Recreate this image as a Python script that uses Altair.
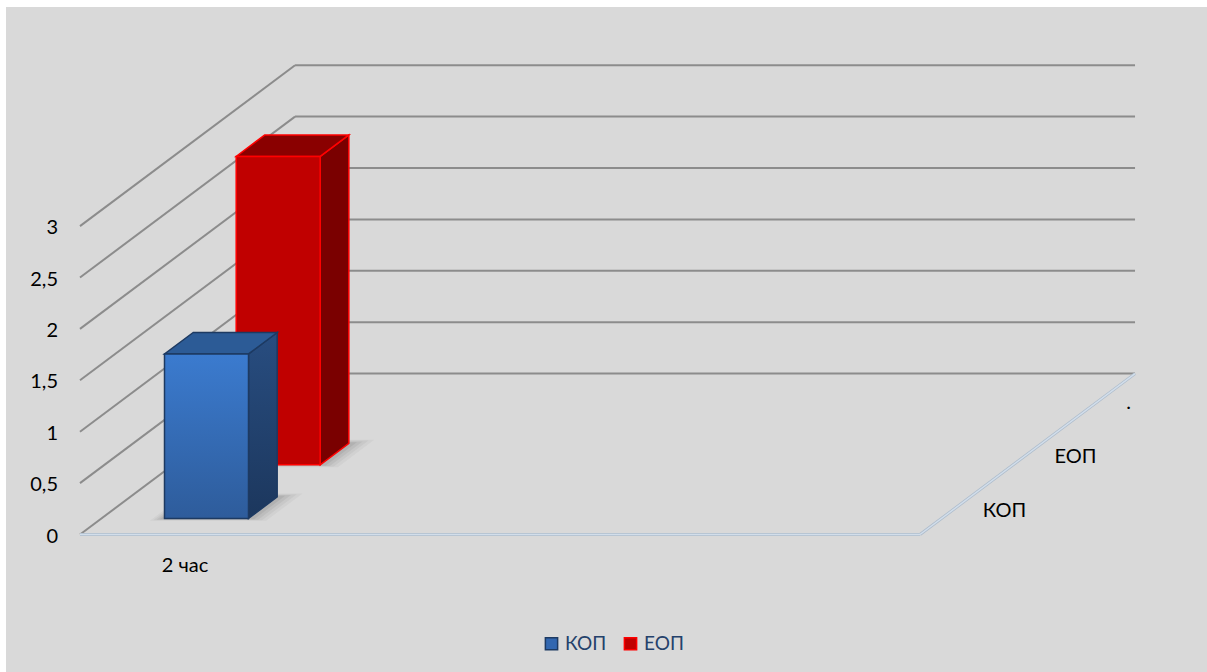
import altair as alt
import pandas as pd

# ---------------- data ----------------
categories = ["2 час"]
n_category_slots = 4
series = ["КОП", "ЕОП"]
values = [1.6, 3.0]
depth_labels = ["КОП", "ЕОП", "."]
y_ticks = [0, 0.5, 1, 1.5, 2, 2.5, 3]
y_tick_labels = ["0", "0,5", "1", "1,5", "2", "2,5", "3"]

front_colors = ["#3b7bcf", "#c00000"]
front_colors_bottom = ["#2e5c9b", "#c00000"]
top_colors = ["#2c5b96", "#8a0000"]
side_colors = ["#284d80", "#7a0000"]
side_colors_bottom = ["#1c375d", "#7a0000"]
outline_colors = ["#1d3a62", "#ff0000"]
legend_fill = ["#3267b0", "#c00000"]

# ---------------- oblique projection ----------------
DEPTH_X = 1.024   # shift (category units) from front edge to back wall
DEPTH_Y = 1.565   # shift (value units) from front edge to back wall
n_rows = len(depth_labels)
kx = DEPTH_X / n_rows
ky = DEPTH_Y / n_rows
BAR_W = 0.4
BAR_D = 0.4

FONT = "Lato"
FS = 20
xscale = alt.Scale(domain=[-0.35238, 5.36667], nice=False, zero=False)
yscale = alt.Scale(domain=[-1.3375, 5.1313], nice=False, zero=False)


def X(f, **kw):
    return alt.X(f, type="quantitative", scale=xscale, axis=None, **kw)


def Y(f, **kw):
    return alt.Y(f, type="quantitative", scale=yscale, axis=None, **kw)


# ---------------- walls / grid ----------------
grid_rows = []
for v in y_ticks:
    grid_rows.append(dict(x=DEPTH_X, x2=n_category_slots + DEPTH_X,
                          y=v + DEPTH_Y, y2=v + DEPTH_Y))
    grid_rows.append(dict(x=0, x2=DEPTH_X, y=v, y2=v + DEPTH_Y))
grid_df = pd.DataFrame(grid_rows)

floor_df = pd.DataFrame([
    dict(x=0, x2=n_category_slots, y=0, y2=0),
    dict(x=n_category_slots, x2=n_category_slots + DEPTH_X, y=0, y2=DEPTH_Y),
])

grid = alt.Chart(grid_df).mark_rule(color="#8c8c8c", strokeWidth=2).encode(
    x=X("x"), x2="x2", y=Y("y"), y2="y2")
floor_shade = alt.Chart(floor_df).mark_rule(color="#aebccb", strokeWidth=3).encode(
    x=X("x"), x2="x2", y=Y("y"), y2="y2")
floor = alt.Chart(floor_df).mark_rule(color="#d2deeb", strokeWidth=1.5).encode(
    x=X("x"), x2="x2", y=Y("y"), y2="y2")

# ---------------- bars ----------------
cat_center = 0.5


def bar_geometry(i):
    v = values[i]
    x0 = cat_center - BAR_W / 2
    x1 = cat_center + BAR_W / 2
    z0 = i + 0.5 - BAR_D / 2
    z1 = i + 0.5 + BAR_D / 2
    return v, x0, x1, z0, z1


def bar_layers(i):
    v, x0, x1, z0, z1 = bar_geometry(i)
    s = series[i]
    front_df = pd.DataFrame([dict(series=s, x=x0 + z0 * kx, x2=x1 + z0 * kx,
                                  y=z0 * ky, y2=v + z0 * ky)])
    top_df = pd.DataFrame([
        dict(series=s, y=v + z0 * ky, x=x0 + z0 * kx, x2=x1 + z0 * kx),
        dict(series=s, y=v + z1 * ky, x=x0 + z1 * kx, x2=x1 + z1 * kx),
    ])
    side_df = pd.DataFrame([
        dict(series=s, x=x1 + z0 * kx, y=z0 * ky, y2=v + z0 * ky),
        dict(series=s, x=x1 + z1 * kx, y=z1 * ky, y2=v + z1 * ky),
    ])
    layers = []
    # soft floor shadow (several faint passes)
    for ext, op in [(0.11, 0.035), (0.085, 0.04), (0.06, 0.05), (0.035, 0.06)]:
        sz0, sz1 = z0 - ext * 0.4, z1 + ext * 0.6
        sx0, sx1 = x0 - ext * 0.5, x1 + ext * 0.9
        sh_df = pd.DataFrame([
            dict(y=sz0 * ky, x=sx0 + sz0 * kx, x2=sx1 + sz0 * kx),
            dict(y=sz1 * ky, x=sx0 + sz1 * kx, x2=sx1 + sz1 * kx),
        ])
        layers.append(alt.Chart(sh_df).mark_area(orient="horizontal", color="#000000",
                                                  opacity=op).encode(
            y=Y("y"), x=X("x"), x2="x2"))
    side_grad = alt.Gradient(gradient="linear",
                             stops=[alt.GradientStop(color=side_colors[i], offset=0),
                                    alt.GradientStop(color=side_colors_bottom[i], offset=1)],
                             x1=0, x2=0, y1=0, y2=1)
    layers.append(alt.Chart(side_df).mark_area(orient="vertical", color=side_grad,
                                               stroke=outline_colors[i], strokeWidth=1.5).encode(
        x=X("x"), y=Y("y"), y2="y2"))
    layers.append(alt.Chart(top_df).mark_area(orient="horizontal", color=top_colors[i],
                                              stroke=outline_colors[i], strokeWidth=1.5).encode(
        y=Y("y"), x=X("x"), x2="x2"))
    front_grad = alt.Gradient(gradient="linear",
                              stops=[alt.GradientStop(color=front_colors[i], offset=0),
                                     alt.GradientStop(color=front_colors_bottom[i], offset=1)],
                              x1=0, x2=0, y1=0, y2=1)
    layers.append(alt.Chart(front_df).mark_rect(color=front_grad,
                                                stroke=outline_colors[i], strokeWidth=1.5).encode(
        x=X("x"), x2="x2", y=Y("y"), y2="y2"))
    return layers


# legend proxy: squares hidden behind the front faces
proxy_rows = []
for i, s in enumerate(series):
    v, x0, x1, z0, z1 = bar_geometry(i)
    proxy_rows.append(dict(series=s, x=cat_center + z0 * kx, y=v / 2 + z0 * ky))
proxy_df = pd.DataFrame(proxy_rows)
legend_cfg = dict(orient="none", legendX=536, legendY=627,
                  direction="horizontal", title=None,
                  symbolType="square", symbolSize=150,
                  symbolStrokeWidth=1.5,
                  labelFont=FONT, labelFontSize=19,
                  labelColor="#24416b", labelOffset=4,
                  columnPadding=14)
legend_layer = alt.Chart(proxy_df).mark_square(size=100, opacity=1, filled=True,
                                               strokeWidth=1.5).encode(
    x=X("x"), y=Y("y"),
    fill=alt.Fill("series:N", scale=alt.Scale(domain=series, range=legend_fill),
                  legend=alt.Legend(**legend_cfg)),
    stroke=alt.Stroke("series:N", scale=alt.Scale(domain=series, range=outline_colors),
                      legend=alt.Legend(**legend_cfg)),
)

# ---------------- texts ----------------
ytick_df = pd.DataFrame(dict(y=y_ticks, label=y_tick_labels, x=[0] * len(y_ticks)))
ytext = alt.Chart(ytick_df).mark_text(align="right", baseline="middle", dx=-22, dy=2,
                                      font=FONT, fontSize=FS, color="#000000").encode(
    x=X("x"), y=Y("y"), text="label:N")

cat_df = pd.DataFrame(dict(label=categories,
                           x=[k + 0.5 for k in range(len(categories))],
                           y=[0] * len(categories)))
cat_text = alt.Chart(cat_df).mark_text(align="center", baseline="middle", dy=31,
                                       font=FONT, fontSize=FS, color="#000000").encode(
    x=X("x"), y=Y("y"), text="label:N")

depth_df = pd.DataFrame(dict(label=depth_labels,
                             x=[n_category_slots + (r + 0.5) * kx for r in range(n_rows)],
                             y=[(r + 0.5) * ky for r in range(n_rows)]))
depth_text = alt.Chart(depth_df).mark_text(align="left", baseline="middle", dx=27, dy=3,
                                           font=FONT, fontSize=FS, color="#000000").encode(
    x=X("x"), y=Y("y"), text="label:N")

layers = [grid, floor_shade, floor, legend_layer]
for i in reversed(range(len(series))):
    layers += bar_layers(i)
layers += [ytext, cat_text, depth_text]

chart = alt.layer(*layers).properties(
    width=1201, height=665,
    padding={"left": 6, "top": 7, "right": 0, "bottom": 0},
    autosize=alt.AutoSizeParams(type="none"),
    background="#ffffff",
).configure_view(fill="#d9d9d9", stroke=None)

chart.save("out.html", embed_options={"renderer": "svg", "actions": False})
